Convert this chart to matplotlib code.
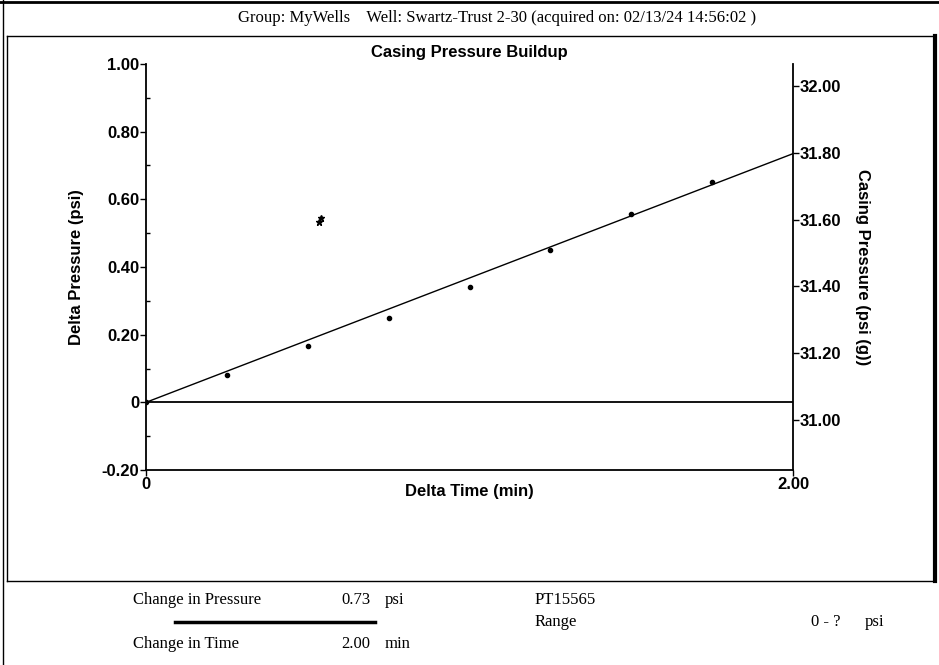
import matplotlib
matplotlib.use("Agg")
import matplotlib.pyplot as plt
from matplotlib.lines import Line2D

# data
delta_time = [0.0, 0.25, 0.50, 0.75, 1.00, 1.25, 1.50, 1.75]
delta_press = [0.0, 0.08, 0.166, 0.25, 0.34, 0.45, 0.556, 0.65]
outlier_time = [0.54, 0.535]
outlier_press = [0.545, 0.533]
fit_time = [0.0, 2.0]
fit_press = [0.0, 0.735]

left_ticks = [-0.2, 0.0, 0.2, 0.4, 0.6, 0.8, 1.0]
left_labels = ["-0.20", "0", "0.20", "0.40", "0.60", "0.80", "1.00"]
right_ticks = [31.0, 31.2, 31.4, 31.6, 31.8, 32.0]
right_labels = ["31.00", "31.20", "31.40", "31.60", "31.80", "32.00"]
x_ticks = [0.0, 2.0]
x_labels = ["0", "2.00"]

W, H = 939, 665
fig = plt.figure(figsize=(W / 100, H / 100), dpi=100)

serif = ["Liberation Serif", "DejaVu Serif"]
sans = ["Liberation Sans", "DejaVu Sans"]


def fx(px):
    return px / W


def fy(py):
    return 1 - py / H


# page frames
lines = [
    ([0, W], [2, 2], 2.0),
    ([3, 3], [0, H], 1.0),
    ([7, 935], [36, 36], 1.0),
    ([7, 7], [36, 581], 1.0),
    ([7, 935], [581, 581], 1.0),
    ([935, 935], [36, 581], 3.0),
]
for xs, ys, lw in lines:
    fig.add_artist(Line2D([fx(v) for v in xs], [fy(v) for v in ys],
                          color="black", lw=lw, transform=fig.transFigure))

fig.text(fx(497), fy(18), "Group: MyWells    Well: Swartz-Trust 2-30 (acquired on: 02/13/24 14:56:02 )",
         ha="center", va="center", family=serif, fontsize=12)
fig.text(fx(469), fy(52), "Casing Pressure Buildup", ha="center", va="center",
         family=sans, fontsize=12, fontweight="bold")

ax = fig.add_axes([fx(146), fy(470), fx(793) - fx(146), fy(64) - fy(470)])
ax.set_xlim(0, 2.0)
ax.set_ylim(-0.2, 1.0)

ax.axhline(0, color="black", lw=1.3)
ax.plot(fit_time, fit_press, color="black", lw=1.0)
ax.plot(delta_time, delta_press, "o", color="black", ms=3)
ax.plot(outlier_time, outlier_press, "*", color="black", ms=5)

for s in ["top", "right"]:
    ax.spines[s].set_visible(False)
ax.spines["left"].set_linewidth(1.3)
ax.spines["bottom"].set_linewidth(1.3)

ax.set_yticks(left_ticks)
ax.set_yticklabels(left_labels)
ax.set_yticks([-0.1, 0.1, 0.3, 0.5, 0.7, 0.9], minor=True)
ax.set_xticks(x_ticks)
ax.set_xticklabels(x_labels)
ax.tick_params(axis="both", which="major", direction="out", length=4, width=1, pad=1,
               labelsize=12)
ax.tick_params(axis="y", which="minor", direction="in", length=3, width=1)
for lab in ax.get_xticklabels() + ax.get_yticklabels():
    lab.set_family(sans)
    lab.set_fontweight("bold")

ax.set_xlabel("Delta Time (min)", family=sans, fontweight="bold", fontsize=12)
ax.xaxis.set_label_coords(0.5, -0.054)
ax.xaxis.label.set_va("center")
ax.set_ylabel("Delta Pressure (psi)", family=sans, fontweight="bold", fontsize=12)
ax.yaxis.set_label_coords(-0.107, 0.5)
ax.yaxis.label.set_va("center")

ax2 = ax.twinx()
ax2.set_ylim(30.85, 32.066)
for s in ["top", "left", "bottom"]:
    ax2.spines[s].set_visible(False)
ax2.spines["right"].set_linewidth(1.3)
ax2.set_yticks(right_ticks)
ax2.set_yticklabels(right_labels)
ax2.tick_params(axis="y", direction="out", length=4, width=1, pad=1, labelsize=12)
for lab in ax2.get_yticklabels():
    lab.set_family(sans)
    lab.set_fontweight("bold")
ax2.set_ylabel("Casing Pressure (psi (g))", family=sans, fontweight="bold",
               fontsize=12, rotation=-90)
ax2.yaxis.set_label_coords(1.107, 0.5)
ax2.yaxis.label.set_va("center")

# summary block below the chart
fig.text(fx(133), fy(600), "Change in Pressure", family=serif, fontsize=12, va="center")
fig.text(fx(370), fy(600), "0.73", family=serif, fontsize=12, va="center", ha="right")
fig.text(fx(385), fy(600), "psi", family=serif, fontsize=12, va="center")
fig.add_artist(Line2D([fx(175), fx(375)], [fy(622), fy(622)], color="black", lw=2.5,
                      transform=fig.transFigure))
fig.text(fx(133), fy(644), "Change in Time", family=serif, fontsize=12, va="center")
fig.text(fx(370), fy(644), "2.00", family=serif, fontsize=12, va="center", ha="right")
fig.text(fx(385), fy(644), "min", family=serif, fontsize=12, va="center")
fig.text(fx(535), fy(600), "PT15565", family=serif, fontsize=12, va="center")
fig.text(fx(535), fy(622), "Range", family=serif, fontsize=12, va="center")
fig.text(fx(811), fy(622), "0 - ?", family=serif, fontsize=12, va="center")
fig.text(fx(865), fy(622), "psi", family=serif, fontsize=12, va="center")

fig.savefig("out.png", dpi=100)
